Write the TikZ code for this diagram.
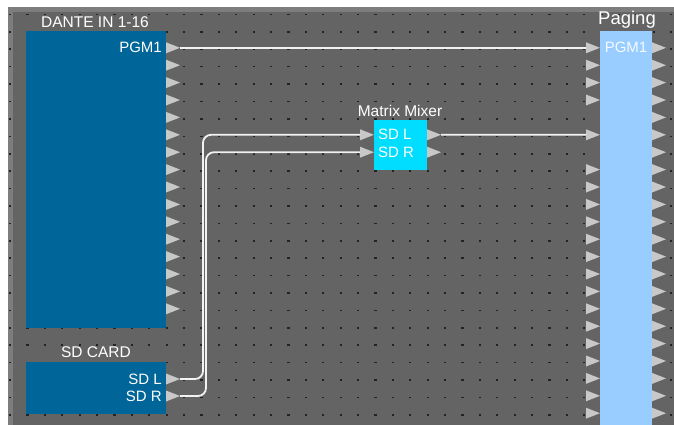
\documentclass[tikz,border=0pt]{standalone}
\usepackage{fontspec}
\setmainfont{Liberation Sans}
\usetikzlibrary{positioning}

\definecolor{canvas}{RGB}{100,100,100}
\definecolor{framec}{RGB}{125,125,125}
\definecolor{dotc}{RGB}{35,35,35}
\definecolor{dantec}{RGB}{0,102,153}
\definecolor{mixc}{RGB}{0,221,255}
\definecolor{pagec}{RGB}{153,204,255}
\definecolor{portc}{RGB}{200,200,200}
\definecolor{wirec}{RGB}{242,242,242}

% output port: apex to the right, coordinate at the apex
\newcommand{\outport}[3]{%
  \fill[portc] ({#1},{#2-5.5}) -- ({#1+14},{#2}) -- ({#1},{#2+5.5}) -- cycle;
  \coordinate (#3) at ({#1+14},{#2});}
% input port: coordinate at the base
\newcommand{\inport}[3]{%
  \fill[portc] ({#1},{#2-5.5}) -- ({#1+14},{#2}) -- ({#1},{#2+5.5}) -- cycle;
  \coordinate (#3) at ({#1},{#2});}

\begin{document}
\begin{tikzpicture}[x=1pt, y=-1pt,
    block/.style={inner sep=0pt, anchor=north west},
    title/.style={text=white, font=\fontsize{15.5}{16}\selectfont, inner sep=0pt},
    lbl/.style={text=white, font=\fontsize{15}{16}\selectfont, inner sep=0pt},
    wire/.style={draw=wirec, line width=1.8pt, rounded corners=8pt},
]
\useasboundingbox (0,0) rectangle (674,425);
\clip (0,0) rectangle (674,425);

% Canvas and grid
\fill[white] (0,0) rectangle (674,425);
\fill[framec] (8,7) rectangle (674,425);
\fill[canvas] (13,12) rectangle (674,425);
\foreach \i in {0,...,38}
  \foreach \j in {0,...,23}
    \fill[dotc] ({10+17.4*\i-1.1},{14.5+17.4*\j-0.8}) rectangle ++(2.2,1.6);

% Blocks
\node[block, fill=dantec, minimum width=140, minimum height=297] (dante) at (26,31) {};
\node[block, fill=dantec, minimum width=140, minimum height=52] (sdcard) at (26,362) {};
\node[block, fill=mixc, minimum width=53, minimum height=50] (mixer) at (374,120) {};
\node[block, fill=pagec, minimum width=52, minimum height=420] (paging) at (600,31) {};

% Titles
\node[title] (dantet) at (95,22) {DANTE IN 1-16};
\node[title] (sdt) at (96,352) {SD CARD};
\node[title] (mixt) at (400,111) {Matrix Mixer};
\node[title, font=\fontsize{18.5}{19}\selectfont] (paget) at (627,20) {Paging};

% Port labels
\node[lbl, anchor=east] (pgm) at (162,47.8) {PGM1};
\node[lbl, anchor=east] (sdl) at (162,379) {SD L};
\node[lbl, anchor=east] (sdr) at (162,396) {SD R};
\node[lbl, anchor=west] (mxl) at (378,134.8) {SD L};
\node[lbl, anchor=west] (mxr) at (378,152.2) {SD R};
\node[lbl, text=white!90!pagec] (pgp) at (626,47.8) {PGM1};

% Ports
\foreach \k in {1,...,16}{
  \outport{166}{47.8+17.4*(\k-1)}{d\k}
}
\outport{166}{379}{sl}
\outport{166}{396}{sr}
\inport{360}{134.8}{mi1}
\inport{360}{152.2}{mi2}
\outport{427}{134.8}{mo1}
\outport{427}{152.2}{mo2}
\foreach \k in {1,2,3,4,6,8,9,...,23}{
  \inport{586}{47.8+17.4*(\k-1)}{pi\k}
}
\foreach \k in {1,...,23}{
  \outport{652}{47.8+17.4*(\k-1)}{po\k}
}

% Wires
\coordinate (busl) at (203,0);
\coordinate (busr) at (206,0);
\draw[wire] (d1) -- (pi1);
\draw[wire] (sl) -- (sl -| busl) -- (mi1 -| busl) -- (mi1);
\draw[wire] (sr) -- (sr -| busr) -- (mi2 -| busr) -- (mi2);
\draw[wire] (mo1) -- (pi6);

\end{tikzpicture}
\end{document}
